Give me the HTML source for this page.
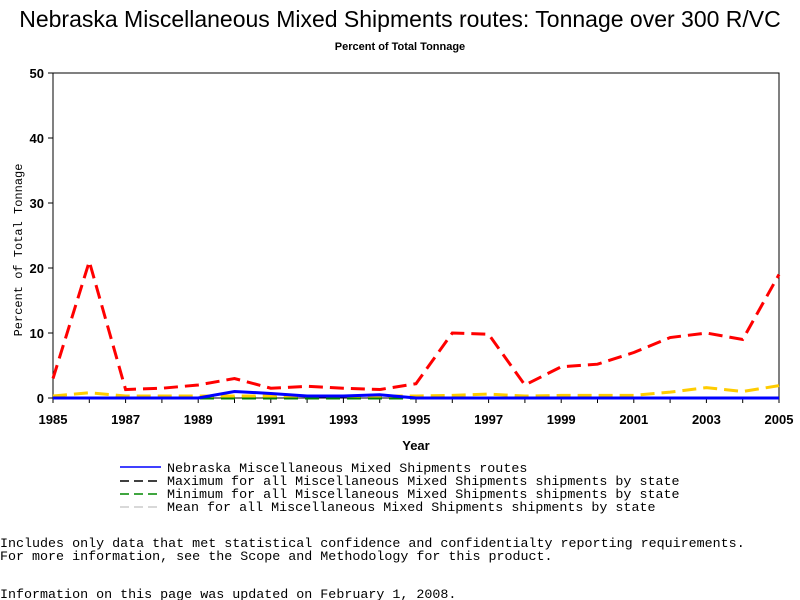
<!DOCTYPE html>
<html><head><meta charset="utf-8"><style>
body{margin:0;background:#fff;width:800px;height:600px;overflow:hidden}
svg{display:block}
.m{font-family:"Liberation Mono",monospace;font-size:13.35px}
.b{font-family:"Liberation Sans",sans-serif;font-weight:bold;font-size:13px}
</style></head><body>
<svg id="s" width="800" height="600" xmlns="http://www.w3.org/2000/svg">
<text x="400" y="27" text-anchor="middle" font-family="Liberation Sans,sans-serif" font-size="23">Nebraska Miscellaneous Mixed Shipments routes: Tonnage over 300 R/VC</text>
<text x="400" y="50" text-anchor="middle" class="b" style="font-size:11px">Percent of Total Tonnage</text>
<rect x="53" y="73" width="726" height="325" fill="none" stroke="#000" stroke-width="1"/>
<g id="ax"></g>
<g id="ser" fill="none" stroke-width="3" stroke-dasharray="14,7"></g>
<text x="416" y="450" text-anchor="middle" class="b">Year</text>
<text transform="translate(22,250) rotate(-90)" text-anchor="middle" class="m" style="font-size:12px">Percent of Total Tonnage</text>
<line x1="120" y1="467" x2="161" y2="467" stroke="#00f" stroke-width="1.5"/>
<line x1="120" y1="481" x2="161" y2="481" stroke="#000" stroke-width="1.5" stroke-dasharray="9,5"/>
<line x1="120" y1="494" x2="161" y2="494" stroke="#080" stroke-width="1.5" stroke-dasharray="9,5"/>
<line x1="120" y1="507" x2="161" y2="507" stroke="#ccc" stroke-width="1.5" stroke-dasharray="9,5"/>
<text x="167" y="472" class="m">Nebraska Miscellaneous Mixed Shipments routes</text>
<text x="167" y="485" class="m">Maximum for all Miscellaneous Mixed Shipments shipments by state</text>
<text x="167" y="498" class="m">Minimum for all Miscellaneous Mixed Shipments shipments by state</text>
<text x="167" y="511" class="m">Mean for all Miscellaneous Mixed Shipments shipments by state</text>
<text x="0" y="547" class="m">Includes only data that met statistical confidence and confidentialty reporting requirements.</text>
<text x="0" y="560" class="m">For more information, see the Scope and Methodology for this product.</text>
<text x="0" y="598" class="m">Information on this page was updated on February 1, 2008.</text>
</svg>
<script>
var NS="http://www.w3.org/2000/svg",ax=document.getElementById("ax"),ser=document.getElementById("ser");
function el(t,a,p,tx){var e=document.createElementNS(NS,t);for(var k in a)e.setAttribute(k,a[k]);if(tx!==undefined)e.textContent=tx;p.appendChild(e);return e;}
function X(i){return 53+i*36.3}function Y(v){return 398-v*6.5}
for(var v=0;v<=50;v+=10){el("line",{x1:48,x2:53,y1:Y(v),y2:Y(v),stroke:"#000"},ax);el("text",{x:44,y:Y(v)+5,"text-anchor":"end","class":"b"},ax,v);}
for(var i=0;i<=20;i++){el("line",{x1:X(i),x2:X(i),y1:398,y2:403,stroke:"#000"},ax);if(i%2==0)el("text",{x:X(i),y:424,"text-anchor":"middle","class":"b"},ax,1985+i);}
var R=[3,21,1.3,1.5,2,3,1.5,1.8,1.5,1.3,2.2,10,9.8,2,4.8,5.2,7,9.3,10,9,19];
var Yl=[0.3,0.8,0.3,0.3,0.3,0.3,0.3,0.3,0.3,0.3,0.3,0.4,0.6,0.3,0.4,0.4,0.4,0.9,1.6,1.0,1.9];
var G=R.map(function(){return 0});
var B=[0,0,0,0,0,1,0.7,0.3,0.3,0.5,0,0,0,0,0,0,0,0,0,0,0];
function pl(d,c,dash){var p=d.map(function(v,i){return X(i)+","+Y(v)}).join(" ");var e=el("polyline",{points:p,stroke:c},ser);if(!dash)e.setAttribute("stroke-dasharray","none");}
pl(G,"#008000",1);pl(Yl,"#ffcc00",1);pl(B,"#0000ff",0);pl(R,"#ff0000",1);
</script>
</body></html>
